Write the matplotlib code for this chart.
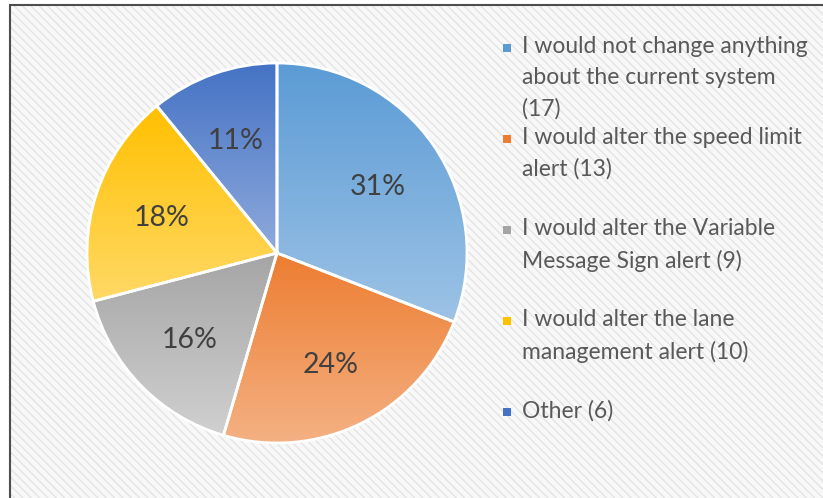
import numpy as np
import matplotlib
matplotlib.use('Agg')
import matplotlib.pyplot as plt
from matplotlib.patches import Rectangle
from matplotlib.colors import LinearSegmentedColormap

# data
labels = ['I would not change anything\nabout the current system\n(17)',
          'I would alter the speed limit\nalert (13)',
          'I would alter the Variable\nMessage Sign alert (9)',
          'I would alter the lane\nmanagement alert (10)',
          'Other (6)']
counts = [17, 13, 9, 10, 6]
top_colors = ['#5B9BD5', '#ED7D31', '#A5A5A5', '#FFC000', '#4472C4']
bottom_colors = ['#9DC3E6', '#F4B183', '#D0D0D0', '#FFD966', '#8FAADC']

W, H = 823, 498
fig = plt.figure(figsize=(W / 100, H / 100), dpi=100)
fig.patch.set_facecolor('white')

# hatched chart area background with a dark frame
bg = Rectangle((10 / W, -0.05), 1.1, 1 - 5 / H + 0.05, transform=fig.transFigure,
               facecolor='#f8f8f8', edgecolor='#e4e4e4', hatch='\\\\\\\\', linewidth=0, zorder=-10)
fig.patches.append(bg)
frame = Rectangle((10 / W, -0.05), 1.1, 1 - 5 / H + 0.05, transform=fig.transFigure,
                  facecolor='none', edgecolor='#4d4d4d', linewidth=1.5, zorder=-9)
fig.patches.append(frame)

# pie axes: centre (277, 253) px, radius 190 px
cx, cy, r = 277, 253, 190
ax = fig.add_axes([(cx - r) / W, (H - cy - r) / H, 2 * r / W, 2 * r / H])
wedges, texts, autotexts = ax.pie(counts, startangle=90, counterclock=False,
                                  autopct='%1.0f%%', pctdistance=0.64,
                                  wedgeprops=dict(linewidth=2, edgecolor='white'),
                                  textprops=dict(fontsize=20.5, color='#404040', family='Lato'))
ax.set_xlim(-1, 1)
ax.set_ylim(-1, 1)
ax.set_aspect('equal')
ax.axis('off')

# vertical gradient fill for each wedge (darker at the top)
for w, c1, c2 in zip(wedges, top_colors, bottom_colors):
    bb = w.get_path().get_extents(w.get_patch_transform())
    cmap = LinearSegmentedColormap.from_list('g', [c1, c2])
    grad = np.linspace(0, 1, 256).reshape(-1, 1)
    im = ax.imshow(grad, cmap=cmap, aspect='auto', extent=[bb.x0, bb.x1, bb.y0, bb.y1],
                   origin='upper', zorder=1)
    im.set_clip_path(w)
    w.set_facecolor('none')
    w.set_zorder(2)
for t in autotexts:
    t.set_zorder(3)
    t.set_va('center_baseline')

# legend, drawn by hand to follow the spacing of the original
for i, (lab, c1) in enumerate(zip(labels, top_colors)):
    ty = 36 + 91 * i
    fig.text(522 / W, 1 - ty / H, lab, fontsize=16.5, color='#595959', family='Lato',
             va='top', ha='left', linespacing=1.58)
    fig.patches.append(Rectangle((503 / W, 1 - (ty + 16) / H), 8 / W, 8 / H,
                                 transform=fig.transFigure, facecolor=c1, edgecolor='none'))

fig.savefig('out.png', dpi=100)
